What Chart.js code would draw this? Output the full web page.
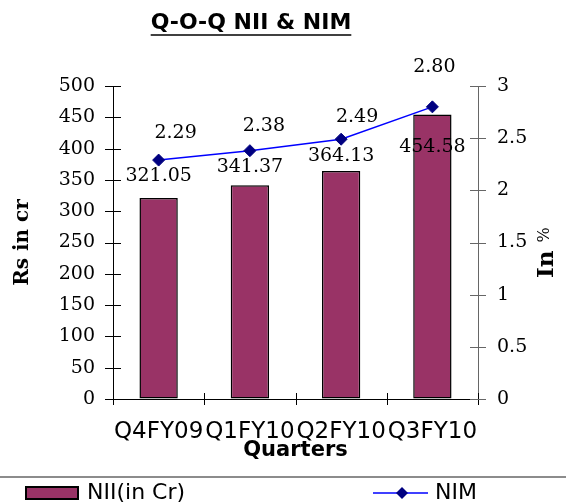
<!DOCTYPE html>
<html>
<head>
<meta charset="utf-8">
<script src="https://cdn.jsdelivr.net/npm/chart.js@4.4.1/dist/chart.umd.min.js"></script>
<style>
  body { margin:0; background:#fff; }
  canvas { display:block; }
</style>
</head>
<body>
<canvas id="myChart" width="566" height="503"></canvas>
<script>
// data
const quarters = ['Q4FY09', 'Q1FY10', 'Q2FY10', 'Q3FY10'];
const niiValues = [321.05, 341.37, 364.13, 454.58];
const nimValues = [2.29, 2.38, 2.49, 2.80];
const niiTickLabels = ['0', '50', '100', '150', '200', '250', '300', '350', '400', '450', '500'];
const nimTickLabels = ['0', '0.5', '1', '1.5', '2', '2.5', '3'];

// label offsets (px) from the drawn point
const barLabelDy = [-22, -18, -15, 33];
const nimLabelDx = [17, 14, 16, 2];
const nimLabelDy = [-27, -25, -22, -40];

const SERIF = '"DejaVu Serif", serif';
const SANS = '"DejaVu Sans", sans-serif';

// title, axis titles, crossing ticks, value labels, legend
const drawExtras = {
  id: 'drawExtras',
  afterDraw(chart) {
    const c = chart.ctx;
    const a = chart.chartArea;
    const yl = chart.scales.y, yr = chart.scales.y1;
    c.save();

    function line(x1, y1, x2, y2) {
      c.beginPath(); c.moveTo(x1, y1); c.lineTo(x2, y2); c.stroke();
    }

    // ticks across the axes
    c.lineWidth = 1;
    c.strokeStyle = '#000';
    yl.ticks.forEach(function (t, i) {
      const py = Math.round(yl.getPixelForTick(i)) + 0.5;
      line(a.left - 8, py, a.left + 8, py);
    });
    const step = (a.right - a.left) / quarters.length;
    for (let i = 0; i <= quarters.length; i++) {
      const px = Math.round(a.left + i * step) + 0.5;
      line(px, a.bottom - 6, px, a.bottom + 6);
    }
    c.strokeStyle = '#666';
    yr.ticks.forEach(function (t, i) {
      const py = Math.round(yr.getPixelForTick(i)) + 0.5;
      line(a.right - 8, py, a.right + 8, py);
    });

    // value labels
    c.fillStyle = '#000';
    c.font = '19px ' + SERIF;
    c.textAlign = 'center';
    c.textBaseline = 'middle';
    chart.getDatasetMeta(0).data.forEach(function (bar, i) {
      c.fillText(niiValues[i].toFixed(2), bar.x, bar.y + barLabelDy[i]);
    });
    chart.getDatasetMeta(1).data.forEach(function (pt, i) {
      c.fillText(nimValues[i].toFixed(2), pt.x + nimLabelDx[i], pt.y + nimLabelDy[i]);
    });

    // chart title, underlined
    c.font = 'bold 22px ' + SANS;
    const title = 'Q-O-Q NII & NIM';
    const tw = c.measureText(title).width;
    c.fillText(title, 251, 23);
    c.lineWidth = 1.5;
    c.strokeStyle = '#000';
    line(251 - tw / 2, 35, 251 + tw / 2, 35);

    // x axis title
    c.font = 'bold 21px ' + SANS;
    c.fillText('Quarters', (a.left + a.right) / 2, 451);

    // left axis title
    c.save();
    c.translate(23, (a.top + a.bottom) / 2);
    c.rotate(-Math.PI / 2);
    c.font = 'bold 20px ' + SERIF;
    c.fillText('Rs in cr', 0, 0);
    c.restore();

    // right axis title
    c.save();
    c.translate(553, 278);
    c.rotate(-Math.PI / 2);
    c.textAlign = 'left';
    c.textBaseline = 'alphabetic';
    c.font = 'bold 23px ' + SERIF;
    c.fillText('In', 0, 0);
    const wIn = c.measureText('In').width;
    c.font = '16px ' + SERIF;
    c.fillText('%', wIn + 8, -4);
    c.restore();

    // legend
    c.strokeStyle = '#666';
    c.lineWidth = 1.5;
    line(0, 477, 566, 477);
    const ds = chart.data.datasets;
    c.fillStyle = ds[0].backgroundColor;
    c.fillRect(26, 487, 52, 12);
    c.strokeStyle = '#000';
    c.lineWidth = 2;
    c.strokeRect(26, 487, 52, 12);
    c.strokeStyle = ds[1].borderColor;
    c.lineWidth = 1.5;
    line(373, 493, 428, 493);
    c.fillStyle = ds[1].pointBackgroundColor;
    c.beginPath();
    c.moveTo(402 - 6, 493); c.lineTo(402, 487); c.lineTo(402 + 6, 493); c.lineTo(402, 499);
    c.closePath(); c.fill();
    c.fillStyle = '#000';
    c.font = '22px ' + SANS;
    c.textAlign = 'left';
    c.fillText(ds[0].label, 87, 493);
    c.fillText(ds[1].label, 435, 493);

    c.restore();
  }
};

const ctx = document.getElementById('myChart');

new Chart(ctx, {
  data: {
    labels: quarters,
    datasets: [
      {
        type: 'bar',
        label: 'NII(in Cr)',
        data: niiValues,
        yAxisID: 'y',
        backgroundColor: '#993366',
        borderColor: '#000',
        borderWidth: 1.5,
        borderSkipped: false,
        barPercentage: 0.42,
        categoryPercentage: 1,
        order: 1
      },
      {
        type: 'line',
        label: 'NIM',
        data: nimValues,
        yAxisID: 'y1',
        borderColor: '#0000ff',
        borderWidth: 1.5,
        pointStyle: 'rectRot',
        pointRadius: 6,
        pointBackgroundColor: '#000080',
        pointBorderColor: '#000080',
        pointBorderWidth: 1,
        tension: 0,
        order: 0
      }
    ]
  },
  options: {
    responsive: false,
    animation: false,
    devicePixelRatio: 1,
    layout: { padding: { top: 86, left: 0, right: 0, bottom: 0 } },
    plugins: {
      legend: { display: false },
      tooltip: { enabled: false },
      title: { display: false }
    },
    scales: {
      x: {
        grid: { display: false, drawTicks: false },
        border: { color: '#000', width: 1 },
        ticks: {
          autoSkip: false, maxRotation: 0, minRotation: 0,
          padding: 19, color: '#000',
          font: { family: SANS, size: 23 }
        },
        afterFit: function (s) { s.height = 104; }
      },
      y: {
        position: 'left',
        min: 0, max: 500,
        grid: { drawOnChartArea: false, drawTicks: false },
        border: { color: '#000', width: 1 },
        ticks: {
          stepSize: 50, padding: 18, color: '#000',
          font: { family: SERIF, size: 19 },
          callback: function (v, i) { return niiTickLabels[i]; }
        },
        afterFit: function (s) { s.width = 113; }
      },
      y1: {
        position: 'right',
        min: 0, max: 3,
        grid: { drawOnChartArea: false, drawTicks: false },
        border: { color: '#666', width: 1 },
        ticks: {
          stepSize: 0.5, padding: 19, color: '#000',
          font: { family: SERIF, size: 19 },
          callback: function (v, i) { return nimTickLabels[i]; }
        },
        afterFit: function (s) { s.width = 88; }
      }
    }
  },
  plugins: [drawExtras]
});
</script>
</body>
</html>
